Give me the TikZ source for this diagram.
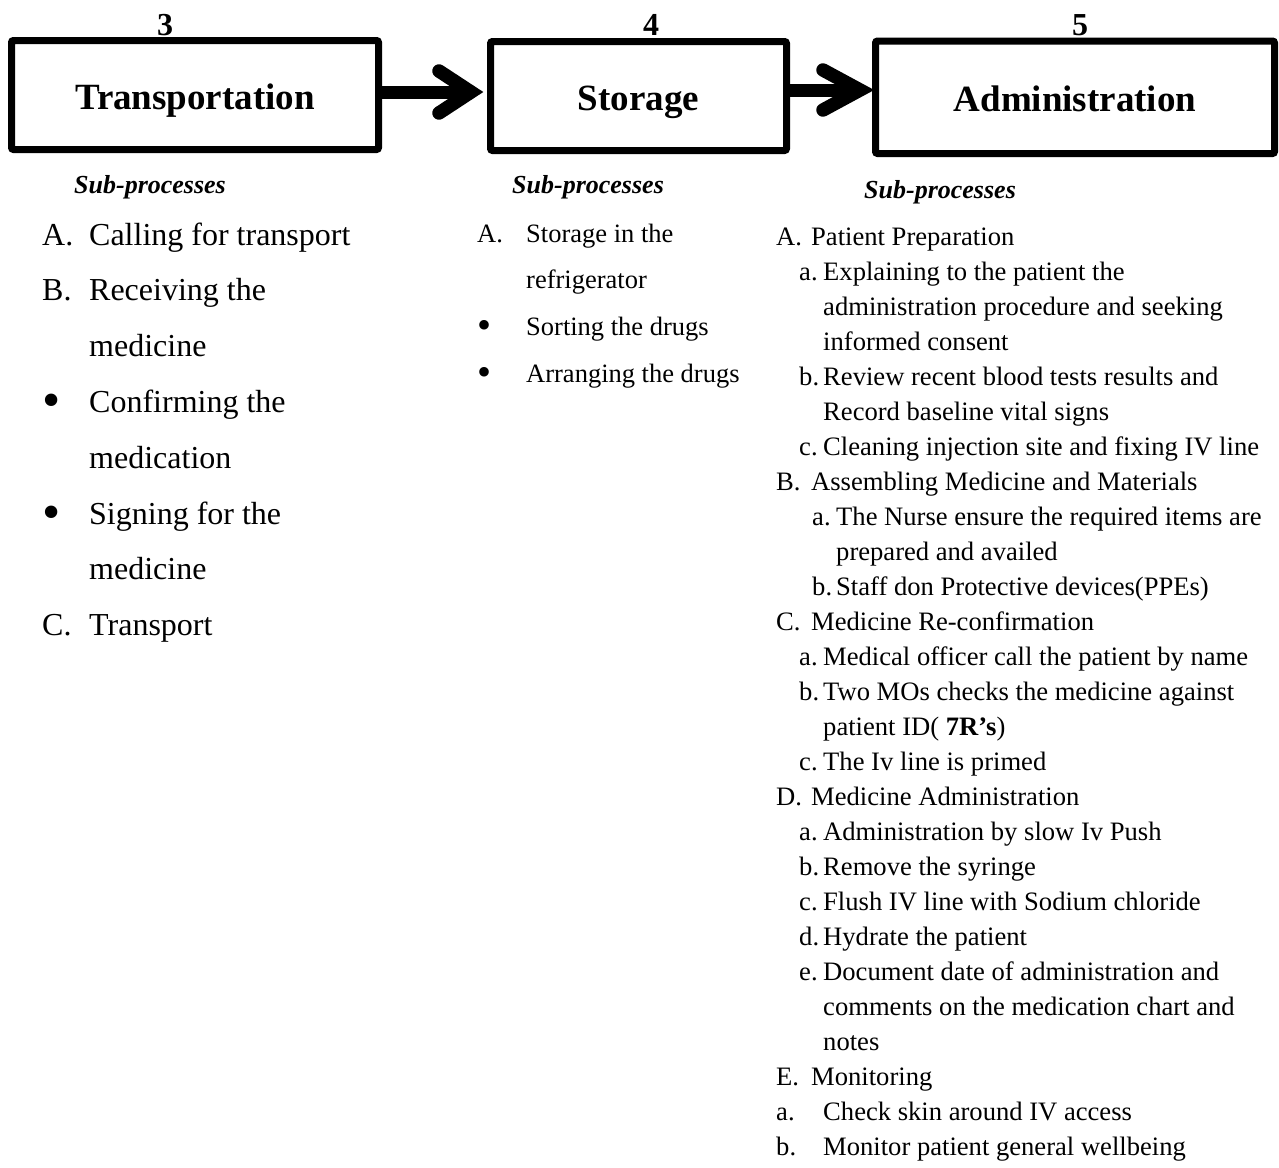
\documentclass[tikz,border=0pt]{standalone}
\usepackage{fontspec}
\setmainfont[Ligatures=NoCommon]{Liberation Serif}
\newcommand{\labA}[1]{\makebox[35pt][l]{#1}}
\newcommand{\laba}[1]{\hspace{23pt}\makebox[24pt][l]{#1}}
\newcommand{\labb}[1]{\hspace{36pt}\makebox[24pt][l]{#1}}
\newcommand{\conta}{\hspace{47pt}}
\newcommand{\contb}{\hspace{60pt}}
\newcommand{\bigbul}{\makebox[47pt][l]{\hspace{0pt}\raisebox{-5pt}{\fontsize{52}{52}\selectfont\textbullet}}}
\newcommand{\midbul}{\makebox[49pt][l]{\hspace{0pt}\raisebox{-3.5pt}{\fontsize{40}{40}\selectfont\textbullet}}}
\begin{document}
\begin{tikzpicture}[x=1pt,y=-1pt,
  box/.style={draw, line width=7pt, rounded corners=2pt, inner sep=0pt,
    font=\fontsize{37}{44}\selectfont\bfseries, text height=28pt, text depth=0pt},
  num/.style={font=\fontsize{32}{38}\selectfont\bfseries, anchor=base, inner sep=0pt},
  sub/.style={font=\fontsize{26}{31}\selectfont\bfseries\itshape, anchor=base west, inner sep=0pt},
  shaft/.style={line width=13pt},
  chev/.style={line width=13.5pt, line cap=round, line join=miter, miter limit=10},
  col/.style={anchor=base west, inner sep=0pt}
]
\useasboundingbox (0,0) rectangle (1279,1167);

% boxes
\node[box, minimum width=367pt, minimum height=109pt] (t) at (195,95) {Transportation};
\node[box, minimum width=296pt, minimum height=109pt] (s) at (638.5,96) {Storage};
\node[box, minimum width=399pt, minimum height=112.5pt] (a) at (1075,97.25) {Administration};

% numbers
\node[num] (n3) at (165,35) {3};
\node[num] (n4) at (651,35) {4};
\node[num] (n5) at (1080,35) {5};

% arrows
\draw[shaft] ([yshift=3pt]t.east) -- ([xshift=-16pt,yshift=4pt]s.west);
\draw[chev] ([shift={(-48,-25)}]s.west) -- ([shift={(-16,-4)}]s.west) -- ([shift={(-48,17)}]s.west);
\draw[shaft] ([yshift=6pt]s.east) -- ([xshift=-14pt,yshift=7.25pt]a.west);
\draw[chev] ([shift={(-49,-27.25)}]a.west) -- ([shift={(-12,-7.25)}]a.west) -- ([shift={(-49,12.75)}]a.west);

% headings
\node[sub] (h1) at (74,193) {Sub-processes};
\node[sub] (h2) at (512,193) {Sub-processes};
\node[sub] (h3) at (864,198) {Sub-processes};

% column 1
\node[col, font=\fontsize{32}{55.8}\selectfont] (c1) at (42,245) {%
\begin{tabular}[t]{@{}l@{}}
\makebox[47pt][l]{A.}Calling for transport\\
\makebox[47pt][l]{B.}Receiving the\\
\hspace{47pt}medicine\\
\bigbul Confirming the\\
\hspace{47pt}medication\\
\bigbul Signing for the\\
\hspace{47pt}medicine\\
\makebox[47pt][l]{C.}Transport
\end{tabular}};

% column 2
\node[col, font=\fontsize{26.5}{46.7}\selectfont] (c2) at (477,242) {%
\begin{tabular}[t]{@{}l@{}}
\makebox[49pt][l]{A.}Storage in the\\
\hspace{49pt}refrigerator\\
\midbul Sorting the drugs\\
\midbul Arranging the drugs
\end{tabular}};

% column 3
\node[col, font=\fontsize{26.6}{35}\selectfont] (c3) at (776,245) {%
\begin{tabular}[t]{@{}l@{}}
\labA{A.}Patient Preparation\\
\laba{a.}Explaining to the patient the\\
\conta administration procedure and seeking\\
\conta informed consent\\
\laba{b.}Review recent blood tests results and\\
\conta Record baseline vital signs\\
\laba{c.}Cleaning injection site and fixing IV line\\
\labA{B.}Assembling Medicine and Materials\\
\labb{a.}The Nurse ensure the required items are\\
\contb prepared and availed\\
\labb{b.}Staff don Protective devices(PPEs)\\
\labA{C.}Medicine Re-confirmation\\
\laba{a.}Medical officer call the patient by name\\
\laba{b.}Two MOs checks the medicine against\\
\conta patient ID( \textbf{7R’s})\\
\laba{c.}The Iv line is primed\\
\labA{D.}Medicine Administration\\
\laba{a.}Administration by slow Iv Push\\
\laba{b.}Remove the syringe\\
\laba{c.}Flush IV line with Sodium chloride\\
\laba{d.}Hydrate the patient\\
\laba{e.}Document date of administration and\\
\conta comments on the medication chart and\\
\conta notes\\
\labA{E.}Monitoring\\
\makebox[47pt][l]{a.}Check skin around IV access\\
\makebox[47pt][l]{b.}Monitor patient general wellbeing
\end{tabular}};
\end{tikzpicture}
\end{document}
